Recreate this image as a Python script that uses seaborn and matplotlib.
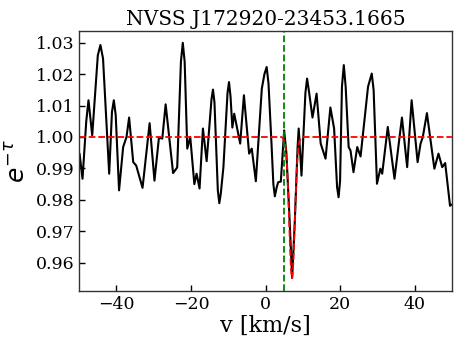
import numpy as np
import pandas as pd
import matplotlib
matplotlib.use('Agg')
import matplotlib.pyplot as plt
import seaborn as sns

# Spectrum
velocity = [-49.9, -49.1, -48.1, -47.5, -46.5, -45.0, -44.3, -43.6, -41.95, -41.2,
            -40.7, -40.2, -39.3, -38.2, -37.3, -36.6, -35.5, -34.7, -33.0, -31.1,
            -29.8, -28.6, -27.7, -26.8, -24.8, -23.7, -22.7, -22.2, -21.7, -21.0,
            -20.2, -19.1, -18.5, -17.7, -16.8, -15.8, -14.5, -14.1, -13.7, -12.8,
            -12.4, -12.0, -11.3, -10.2, -9.8, -9.4, -8.9, -8.4, -6.8, -5.8,
            -4.4, -3.7, -2.6, -1.0, -0.3, 0.3, 0.8, 1.6, 2.1, 2.5,
            3.0, 3.4, 4.1, 5.0, 5.6, 6.4, 7.14, 7.86, 8.6, 8.9,
            9.65, 10.7, 11.15, 11.6, 12.6, 13.7, 14.8, 16.1, 17.4, 18.4,
            19.2, 19.6, 20.0, 20.5, 21.0, 21.5, 22.3, 22.8, 23.6, 24.6,
            25.5, 27.5, 28.5, 29.0, 29.9, 30.8, 31.3, 32.8, 34.6, 36.6,
            38.0, 39.2, 40.8, 41.6, 42.2, 43.3, 45.3, 46.4, 47.4, 48.2,
            49.5, 50.0]
e_tau = [0.9947, 0.9867, 1.0050, 1.0117, 1.0005, 1.0260, 1.0293, 1.0250, 0.9883, 1.0080,
         1.0117, 1.0070, 0.9830, 0.9968, 1.0000, 1.0062, 0.9920, 0.9909, 0.9838, 1.0044,
         0.9861, 0.9998, 0.9995, 1.0104, 0.9885, 0.9903, 1.0240, 1.0300, 1.0240, 0.9963,
         1.0000, 0.9850, 0.9883, 0.9836, 1.0027, 0.9923, 1.0120, 1.0151, 1.0110, 0.9830,
         0.9789, 0.9820, 0.9904, 1.0140, 1.0175, 1.0130, 1.0030, 1.0074, 0.9979, 1.0133,
         0.9947, 0.9963, 0.9859, 1.0154, 1.0200, 1.0223, 1.0170, 0.9979, 0.9850, 0.9811,
         0.9840, 0.9856, 0.9858, 1.0021, 0.9948, 0.9750, 0.9552, 0.9733, 0.9968, 1.0027,
         0.9877, 1.0140, 1.0186, 1.0150, 1.0062, 1.0138, 0.9979, 0.9931, 1.0094, 1.0027,
         0.9840, 0.9808, 0.9860, 1.0160, 1.0229, 1.0160, 0.9968, 0.9957, 0.9888, 0.9968,
         0.9938, 1.0160, 1.0202, 1.0150, 0.9851, 0.9899, 0.9883, 1.0032, 0.9867, 1.0062,
         0.9904, 1.0117, 0.9920, 0.9979, 1.0000, 1.0076, 0.9899, 0.9947, 0.9904, 0.9917,
         0.9781, 0.9785]

# Gaussian fit curve, sampled
fit_v = [-50, 4.1, 4.6, 5.1, 5.35, 5.6, 5.85, 6.1, 6.35, 6.6, 6.85, 7.1, 7.35,
         7.6, 7.85, 8.1, 8.35, 8.6, 8.85, 9.1, 9.6, 10.1, 50]
fit_val = [1.0, 1.0, 0.9998, 0.9987, 0.9970, 0.9939, 0.9888, 0.9815, 0.9727, 0.9640,
           0.9574, 0.9550, 0.9574, 0.9640, 0.9727, 0.9815, 0.9888, 0.9939, 0.9970,
           0.9987, 0.9998, 1.0, 1.0]

v_marker = 5.0
title = 'NVSS J172920-23453.1665'

spec = pd.DataFrame({'v': velocity, 'e_tau': e_tau})
fit = pd.DataFrame({'v': fit_v, 'fit': fit_val})

sns.set_style('white')
plt.rcParams['font.family'] = ['DejaVu Serif']
plt.rcParams['mathtext.fontset'] = 'dejavusans'
plt.rcParams['text.color'] = 'black'
plt.rcParams['axes.labelcolor'] = 'black'
plt.rcParams['xtick.color'] = 'black'
plt.rcParams['ytick.color'] = 'black'

fig = plt.figure(figsize=(4.63, 3.47), dpi=100)
ax = fig.add_axes([0.171, 0.161, 0.805, 0.750])

sns.lineplot(data=spec, x='v', y='e_tau', color='black', lw=1.5, ax=ax,
             solid_joinstyle='round')
sns.lineplot(data=fit, x='v', y='fit', color='red', lw=1.3, ls='--', ax=ax)
ax.axvline(v_marker, color='green', lw=1.3, ls='--')

ax.set_xlim(-50, 50)
ax.set_ylim(0.9509, 1.0338)
ax.set_xticks([-40, -20, 0, 20, 40])
ax.set_yticks([0.96, 0.97, 0.98, 0.99, 1.00, 1.01, 1.02, 1.03])
ax.tick_params(direction='in', labelsize=12.5, length=4, width=1,
               bottom=True, left=True, top=False, right=False)
for s in ax.spines.values():
    s.set_color('#333333')
    s.set_linewidth(1)

ax.set_xlabel('v [km/s]', fontsize=16, labelpad=1)
ax.set_ylabel(r'$e^{-\tau}$', fontsize=18, labelpad=4)
ax.set_title(title, fontsize=14.5, pad=4)

fig.savefig('out.png', dpi=100)
